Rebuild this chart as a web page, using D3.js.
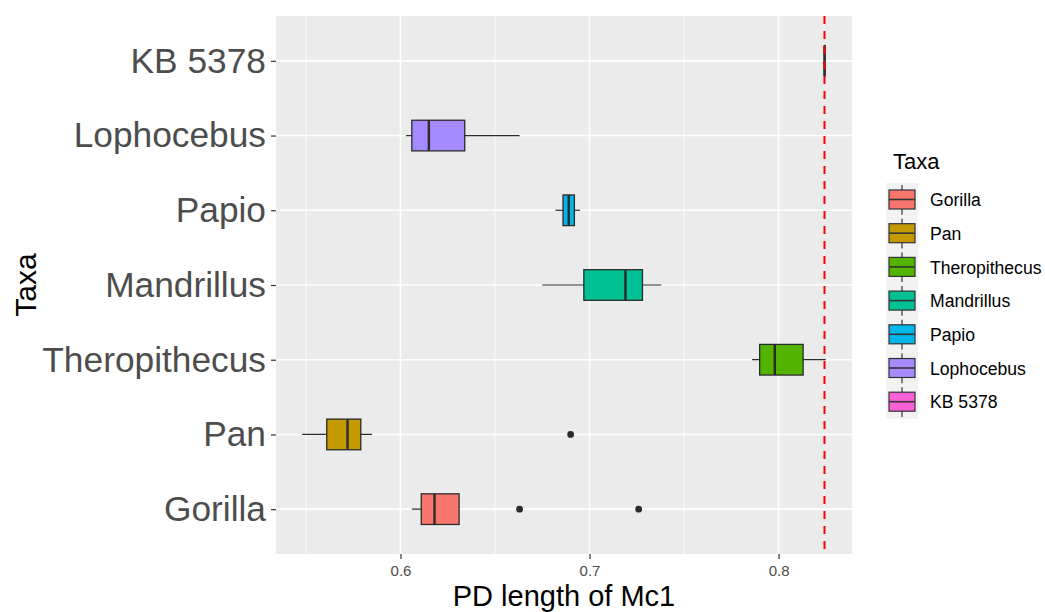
<!DOCTYPE html>
<html lang="en">
    <head>
        <meta charset="UTF-8">
        <title>PD length of Mc1</title>
        <style>
            body { margin: 0; background: #fff; }
            text { font-family: "Liberation Sans", Arial, sans-serif; }
        </style>
    </head>
    <script src="https://cdn.jsdelivr.net/npm/d3@7"></script>
    <body>
        <svg width="1045" height="612"></svg>
    </body>

    <script>
    // data
    var taxa = ["Gorilla", "Pan", "Theropithecus", "Mandrillus", "Papio", "Lophocebus", "KB 5378"];
    var taxaColors = ["#F8766D", "#C49A00", "#53B400", "#00C094", "#00B6EB", "#A58AFF", "#FB61D7"];
    var lowerWhisker = [0.606, 0.548, 0.786, 0.675, 0.682, 0.603, 0.8243];
    var q1 = [0.611, 0.561, 0.790, 0.697, 0.686, 0.606, 0.8243];
    var medians = [0.618, 0.572, 0.798, 0.719, 0.689, 0.615, 0.8243];
    var q3 = [0.631, 0.579, 0.813, 0.728, 0.692, 0.634, 0.8243];
    var upperWhisker = [0.631, 0.585, 0.825, 0.738, 0.695, 0.663, 0.8243];
    var outlierTaxa = ["Gorilla", "Gorilla", "Pan"];
    var outlierValues = [0.663, 0.726, 0.690];
    var kbLine = 0.8243;
    var xTicks = [0.6, 0.7, 0.8];
    var xMinor = [0.55, 0.65, 0.75];

    var boxes = taxa.map(function(t, i) {
        return {taxon: t, lo: lowerWhisker[i], q1: q1[i], med: medians[i], q3: q3[i], hi: upperWhisker[i]};
    });
    var outliers = outlierTaxa.map(function(t, i) { return {taxon: t, value: outlierValues[i]}; });

    var panel = {left: 276, right: 852, top: 16, bottom: 554};
    var svg = d3.select("svg");

    // ggplot style 5% expansion
    var allVals = lowerWhisker.concat(upperWhisker, outlierValues, [kbLine]);
    var lo = d3.min(allVals), hi = d3.max(allVals), pad = (hi - lo) * 0.05;

    var x = d3.scaleLinear()
        .domain([lo - pad, hi + pad])
        .range([panel.left, panel.right]);

    var y = d3.scalePoint()
        .domain(taxa)
        .range([panel.bottom, panel.top])
        .padding(0.6);

    var color = d3.scaleOrdinal()
        .domain(taxa)
        .range(taxaColors);

    var boxH = y.step() * 0.41;

    // panel background + grid
    svg.append("rect")
        .attr("x", panel.left).attr("y", panel.top)
        .attr("width", panel.right - panel.left).attr("height", panel.bottom - panel.top)
        .attr("fill", "#EBEBEB");

    svg.selectAll(".minor")
        .data(xMinor)
        .join("line")
        .attr("x1", function(d) { return x(d); }).attr("x2", function(d) { return x(d); })
        .attr("y1", panel.top).attr("y2", panel.bottom)
        .attr("stroke", "white").attr("stroke-width", 0.8);

    svg.selectAll(".major")
        .data(xTicks)
        .join("line")
        .attr("x1", function(d) { return x(d); }).attr("x2", function(d) { return x(d); })
        .attr("y1", panel.top).attr("y2", panel.bottom)
        .attr("stroke", "white").attr("stroke-width", 1.6);

    svg.selectAll(".hgrid")
        .data(taxa)
        .join("line")
        .attr("x1", panel.left).attr("x2", panel.right)
        .attr("y1", function(d) { return y(d); }).attr("y2", function(d) { return y(d); })
        .attr("stroke", "white").attr("stroke-width", 1.6);

    // boxplots
    var g = svg.append("g");
    g.selectAll(".whisker")
        .data(boxes)
        .join("line")
        .attr("x1", function(d) { return x(d.lo); }).attr("x2", function(d) { return x(d.hi); })
        .attr("y1", function(d) { return y(d.taxon); }).attr("y2", function(d) { return y(d.taxon); })
        .attr("stroke", "#2b2b2b").attr("stroke-width", 1.2);

    g.selectAll(".box")
        .data(boxes)
        .join("rect")
        .attr("x", function(d) { return x(d.q1); })
        .attr("y", function(d) { return y(d.taxon) - boxH / 2; })
        .attr("width", function(d) { return Math.max(x(d.q3) - x(d.q1), 0.5); })
        .attr("height", boxH)
        .attr("fill", function(d) { return color(d.taxon); })
        .attr("stroke", "#2b2b2b").attr("stroke-width", 1.3);

    g.selectAll(".median")
        .data(boxes)
        .join("line")
        .attr("x1", function(d) { return x(d.med); }).attr("x2", function(d) { return x(d.med); })
        .attr("y1", function(d) { return y(d.taxon) - boxH / 2; })
        .attr("y2", function(d) { return y(d.taxon) + boxH / 2; })
        .attr("stroke", "#2b2b2b").attr("stroke-width", 2.4);

    g.selectAll(".outlier")
        .data(outliers)
        .join("circle")
        .attr("cx", function(d) { return x(d.value); })
        .attr("cy", function(d) { return y(d.taxon); })
        .attr("r", 3.4)
        .attr("fill", "#2b2b2b");

    // KB 5378 reference line
    svg.append("line")
        .attr("x1", x(kbLine)).attr("x2", x(kbLine))
        .attr("y1", panel.top).attr("y2", panel.bottom)
        .attr("stroke", "#FF0000").attr("stroke-width", 2)
        .attr("stroke-dasharray", "8,7");

    // axes
    var xAxis = svg.append("g")
        .attr("transform", "translate(0," + panel.bottom + ")")
        .call(d3.axisBottom(x).tickValues(xTicks).tickSize(5).tickPadding(6).tickFormat(d3.format(".1f")));
    xAxis.select(".domain").remove();
    xAxis.selectAll("line").attr("stroke", "#333").attr("stroke-width", 1.2);
    xAxis.selectAll("text").attr("fill", "#4D4D4D").style("font-size", "15px");

    var yAxis = svg.append("g")
        .attr("transform", "translate(" + panel.left + ",0)")
        .call(d3.axisLeft(y).tickSize(5).tickPadding(5));
    yAxis.select(".domain").remove();
    yAxis.selectAll("line").attr("stroke", "#333").attr("stroke-width", 1.2);
    yAxis.selectAll("text").attr("fill", "#4D4D4D").style("font-size", "35.3px");

    svg.append("text")
        .attr("x", (panel.left + panel.right) / 2)
        .attr("y", 606)
        .attr("text-anchor", "middle")
        .style("font-size", "29px")
        .attr("fill", "black")
        .text("PD length of Mc1");

    svg.append("text")
        .attr("transform", "translate(36," + (panel.top + panel.bottom) / 2 + ") rotate(-90)")
        .attr("text-anchor", "middle")
        .style("font-size", "30px")
        .attr("fill", "black")
        .text("Taxa");

    // legend
    var legend = svg.append("g").attr("transform", "translate(886,0)");
    legend.append("text")
        .attr("x", 7).attr("y", 169)
        .style("font-size", "22px")
        .attr("fill", "black")
        .text("Taxa");

    var keyStep = 33.7, keyTop = 183;
    var keys = legend.selectAll(".key")
        .data(taxa)
        .join("g")
        .attr("transform", function(d, i) { return "translate(0," + (keyTop + i * keyStep) + ")"; });

    keys.append("rect")
        .attr("x", 0).attr("y", 0).attr("width", 32).attr("height", keyStep)
        .attr("fill", "#F2F2F2");
    keys.append("line")
        .attr("x1", 16).attr("x2", 16).attr("y1", 2).attr("y2", keyStep - 2)
        .attr("stroke", "#333").attr("stroke-width", 1.2);
    keys.append("rect")
        .attr("x", 3).attr("y", 7).attr("width", 26).attr("height", 19)
        .attr("fill", function(d) { return color(d); })
        .attr("stroke", "#333").attr("stroke-width", 1.2);
    keys.append("line")
        .attr("x1", 3).attr("x2", 29).attr("y1", 16.5).attr("y2", 16.5)
        .attr("stroke", "#333").attr("stroke-width", 1.6);
    keys.append("text")
        .attr("x", 44).attr("y", 17)
        .attr("dy", "0.35em")
        .style("font-size", "17.6px")
        .attr("fill", "black")
        .text(function(d) { return d; });
    </script>
</html>
